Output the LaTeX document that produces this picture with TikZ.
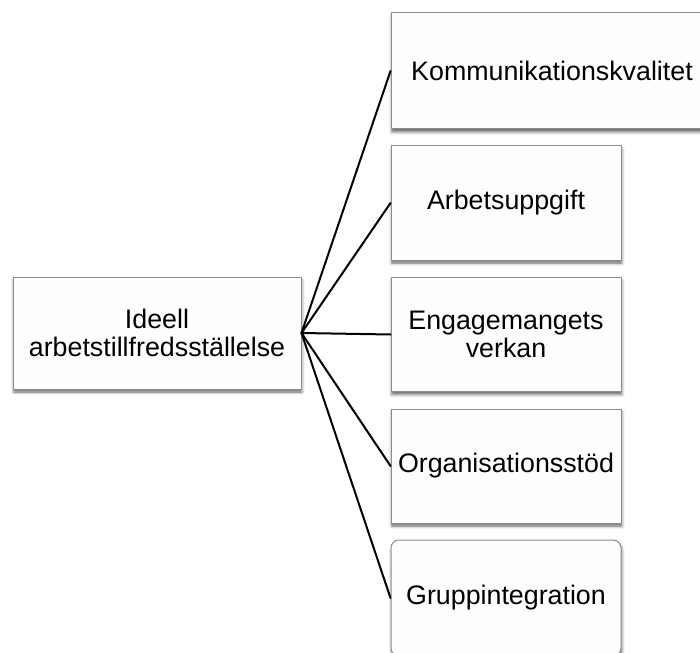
\documentclass[tikz,border=0pt]{standalone}
\usepackage{fontspec}
\setmainfont{Liberation Sans}
\usetikzlibrary{shadows.blur}

\begin{document}
\begin{tikzpicture}[x=.5pt,y=-.5pt,line cap=round,line join=round]

\definecolor{frame}{RGB}{140,140,140}
\definecolor{boxFill}{RGB}{254,254,254}

\tikzset{
  card/.style={draw=frame, line width=.5pt, fill=boxFill, align=center,
    font=\fontsize{13.4}{14.2}\selectfont, inner sep=0pt,
    blur shadow={shadow xshift=.4pt, shadow yshift=-1.5pt,
      shadow blur radius=1.5pt, shadow opacity=60}},
  factor/.style={card, minimum width=115pt, minimum height=57pt},
  link/.style={line width=1pt, black}
}

\path[use as bounding box] (0,0) rectangle (700,652);

% main box
\node[card, minimum width=144pt, minimum height=56pt] (ideal) at (157,333)
  {Ideell\\arbetstillfredsställelse};

% factors
\node[card, minimum width=161pt, minimum height=58pt] (komm) at (552,71)
  {Kommunikationskvalitet};
\node[factor] (arbete) at (506,203) {Arbetsuppgift};
\node[factor] (engag) at (506,334.5) {Engagemangets\\verkan};
\node[factor] (stod) at (506,466) {Organisationsstöd};
\node[factor, rounded corners=4pt, minimum height=58pt] (grupp) at (506,598)
  {Gruppintegration};

% connectors
\foreach \f in {komm,arbete,engag,stod,grupp}
  \draw[link] (ideal.east) -- (\f.west);

\end{tikzpicture}
\end{document}
